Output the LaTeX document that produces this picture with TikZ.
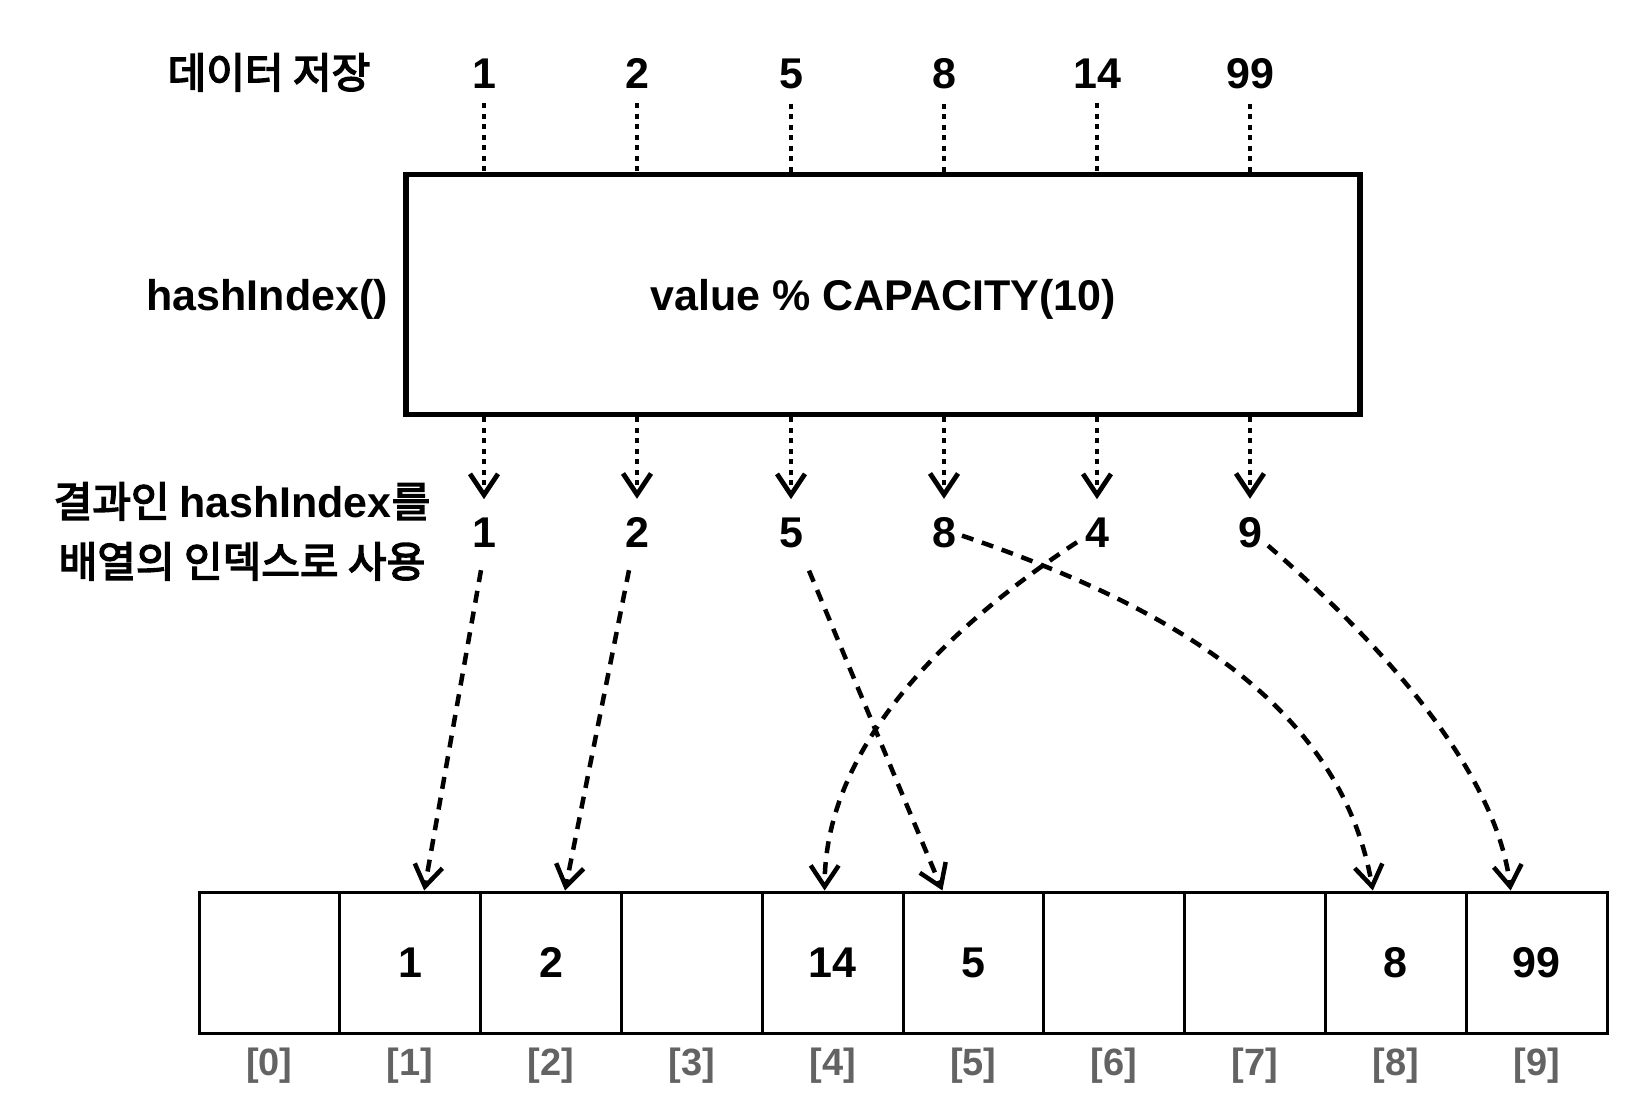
\documentclass[tikz,border=0pt]{standalone}
\usepackage{fontspec}
\setmainfont{Liberation Sans}
\newfontfamily\krfont{Noto Sans CJK KR}[FakeBold=3.5]
\usetikzlibrary{arrows.meta}
\definecolor{idxgray}{HTML}{636363}
\newcommand{\latb}{\fontsize{43}{50}\selectfont\rmfamily\bfseries}
\tikzset{
  lat/.style={font=\fontsize{43}{50}\selectfont\bfseries, inner sep=0pt},
  krl/.style={font=\fontsize{42}{48}\selectfont\krfont, inner sep=0pt},
  idx/.style={font=\fontsize{38}{44}\selectfont\bfseries, text=idxgray, inner sep=0pt, anchor=base},
  cell/.style={draw, line width=3pt, minimum width=140.8pt, minimum height=141pt, inner sep=0pt, font=\fontsize{43}{50}\selectfont\bfseries},
  fbox/.style={draw, line width=5.5pt, minimum width=954pt, minimum height=240pt, inner sep=0pt},
  dotln/.style={line width=4.8pt, dash pattern=on 5pt off 5.5pt},
  dashln/.style={line width=4.5pt, dash pattern=on 12pt off 9pt},
  tipv/.style={-{Straight Barb[length=21pt,width=28pt]}},
}
\begin{document}
\begin{tikzpicture}[x=1pt,y=-1pt]
\useasboundingbox (0,0) rectangle (1652,1112);
% function box
\node[fbox] (box) at (883,294.5) {};
\node[lat, anchor=base] (fn) at ([yshift=-16pt]box.center) {value \% CAPACITY(10)};
% left labels
\node[krl, anchor=base] (lab1) at (269,88) {데이터 저장};
\node[lat, anchor=base east] (lab0) at (388,310) {hashIndex()};
\node[krl, anchor=base] (lab2) at (242,517) {결과인 {\latb hashIndex}를};
\node[krl, anchor=base] (lab3) at (242,577) {배열의 인덱스로 사용};
% top values and results
\foreach \n/\x/\a/\b in {1/484/1/1, 2/637/2/2, 3/791/5/5, 4/944/8/8, 5/1097/14/4, 6/1250/99/9} {
  \node[lat, anchor=base] (t\n) at (\x,88) {\a};
  \node[lat, anchor=base] (r\n) at (\x,547) {\b};
  \draw[dotln] ([yshift=-15pt]t\n.south) -- (t\n.south |- box.north);
  \draw[dotln, tipv] (r\n.north |- box.south) -- ([yshift=18pt]r\n.north);
}
% array
\foreach \i/\v in {0/,1/1,2/2,3/,4/14,5/5,6/,7/,8/8,9/99} {
  \node[cell] (c\i) at ({199+140.8*(\i+0.5)},962.5) {\v};
  \node[idx] (i\i) at ({199+140.8*(\i+0.5)},1075) {[\i]};
}
% mapping arrows
\draw[dashln, tipv] ([xshift=-3pt,yshift=-23pt]r1.south) -- ([xshift=14pt]c1.north);
\draw[dashln, tipv] ([xshift=-8pt,yshift=-23pt]r2.south) -- ([xshift=14pt]c2.north);
\draw[dashln, tipv] ([xshift=18pt,yshift=-23pt]r3.south) -- ([xshift=-31pt]c5.north);
\draw[dashln, tipv] ([xshift=-20pt,yshift=5pt]r5.south) .. controls (957,621) and (825,740) .. ([xshift=-8pt]c4.north);
\draw[dashln, tipv] ([xshift=18pt,yshift=12pt]r4.south) .. controls (1160,603) and (1340,700) .. ([xshift=-23pt]c8.north);
\draw[dashln, tipv] ([xshift=18pt,yshift=2pt]r6.south) .. controls (1360,625) and (1495,760) .. ([xshift=-26pt]c9.north);
\end{tikzpicture}
\end{document}
